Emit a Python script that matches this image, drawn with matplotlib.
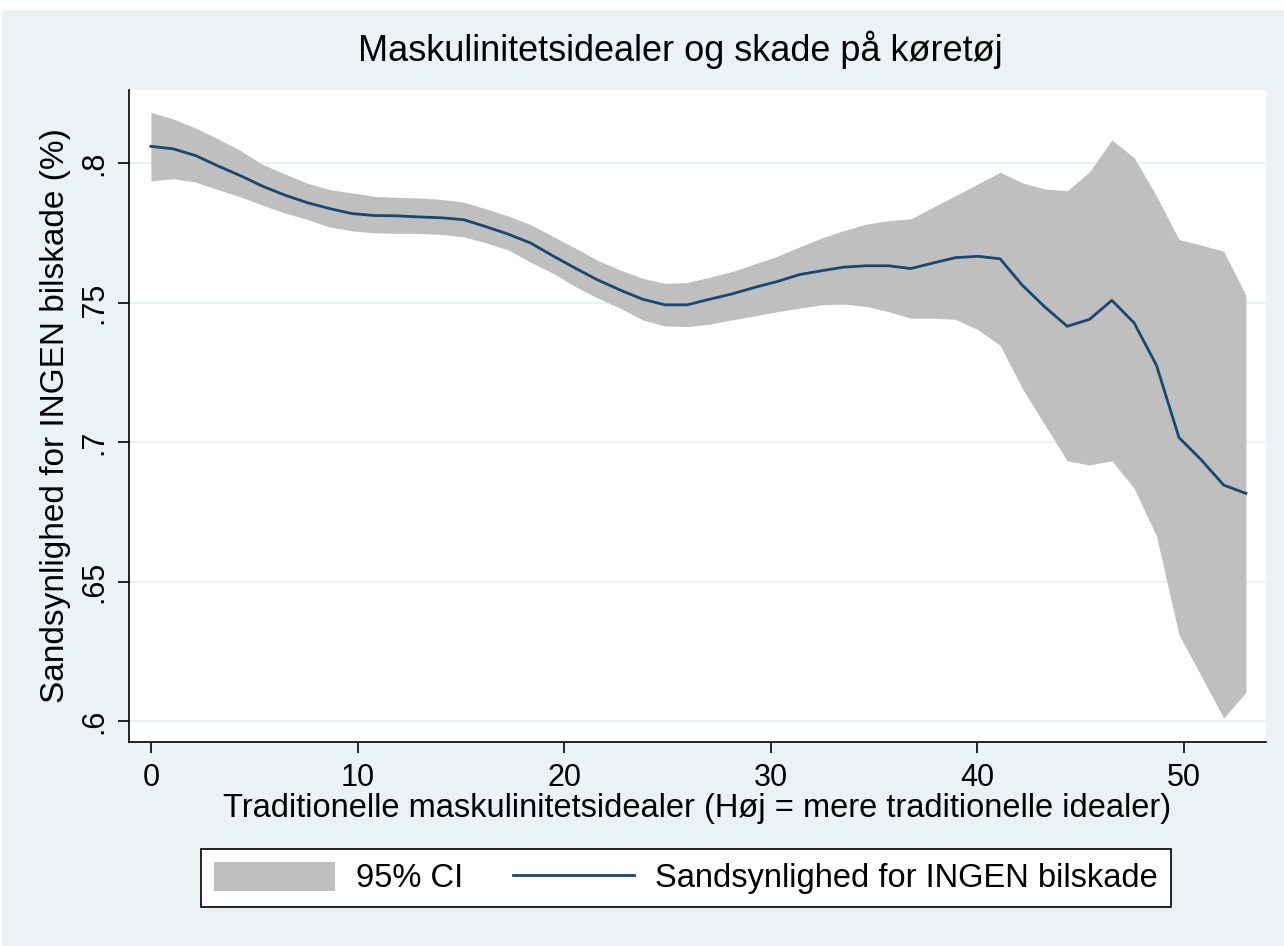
import matplotlib
matplotlib.use("Agg")
import matplotlib.pyplot as plt
from matplotlib.patches import Rectangle, Patch
from matplotlib.lines import Line2D
from matplotlib.ticker import FuncFormatter

plt.rcParams['font.family'] = ['Liberation Sans Narrow', 'Liberation Sans', 'DejaVu Sans']

# maskulinitetsscore (x) og forudsagt sandsynlighed med 95% CI
x = [0, 1.08, 2.16, 3.24, 4.33, 5.41, 6.49, 7.57, 8.65, 9.73,
     10.82, 11.90, 12.98, 14.06, 15.14, 16.22, 17.31, 18.39, 19.47, 20.55,
     21.63, 22.71, 23.80, 24.88, 25.96, 27.04, 28.12, 29.20, 30.29, 31.37,
     32.45, 33.53, 34.61, 35.69, 36.78, 37.86, 38.94, 40.02, 41.10, 42.18,
     43.27, 44.35, 45.43, 46.51, 47.59, 48.67, 49.76, 50.84, 51.92, 53.0]

pred = [0.8060, 0.8051, 0.8027, 0.7990, 0.7955, 0.7917, 0.7885, 0.7858, 0.7837, 0.7819,
        0.7812, 0.7811, 0.7807, 0.7804, 0.7797, 0.7772, 0.7745, 0.7713, 0.7667, 0.7623,
        0.7581, 0.7545, 0.7512, 0.7492, 0.7492, 0.7512, 0.7531, 0.7554, 0.7575, 0.7600,
        0.7614, 0.7627, 0.7632, 0.7632, 0.7622, 0.7642, 0.7661, 0.7666, 0.7657, 0.7562,
        0.7484, 0.7415, 0.7440, 0.7508, 0.7427, 0.7275, 0.7016, 0.6936, 0.6846, 0.6816]

upper = [0.8182, 0.8158, 0.8126, 0.8087, 0.8045, 0.7995, 0.7961, 0.7928, 0.7905, 0.7893,
         0.7881, 0.7877, 0.7875, 0.7870, 0.7860, 0.7836, 0.7810, 0.7779, 0.7737, 0.7695,
         0.7651, 0.7617, 0.7587, 0.7569, 0.7572, 0.7591, 0.7611, 0.7638, 0.7665, 0.7699,
         0.7731, 0.7758, 0.7781, 0.7794, 0.7800, 0.7842, 0.7883, 0.7925, 0.7967, 0.7929,
         0.7907, 0.7901, 0.7969, 0.8083, 0.8019, 0.7882, 0.7726, 0.7706, 0.7684, 0.7526]

lower = [0.7936, 0.7944, 0.7932, 0.7905, 0.7879, 0.7849, 0.7821, 0.7798, 0.7771, 0.7757,
         0.7750, 0.7748, 0.7748, 0.7744, 0.7736, 0.7714, 0.7688, 0.7644, 0.7605, 0.7557,
         0.7516, 0.7480, 0.7438, 0.7416, 0.7414, 0.7423, 0.7438, 0.7452, 0.7467, 0.7480,
         0.7492, 0.7495, 0.7486, 0.7468, 0.7444, 0.7444, 0.7440, 0.7403, 0.7347, 0.7192,
         0.7061, 0.6933, 0.6918, 0.6933, 0.6834, 0.6663, 0.6309, 0.6161, 0.6011, 0.6103]

xticks = [0, 10, 20, 30, 40, 50]
yticks = [0.6, 0.65, 0.7, 0.75, 0.8]

bg = '#EAF2F3'
navy = '#1A476F'
ci_grey = '#BFBFBF'

W, H = 1284, 946
fig = plt.figure(figsize=(W / 100, H / 100), dpi=100, facecolor=bg)
# hvid kant oeverst og til venstre
fig.patches.append(Rectangle((0, 1 - 10 / H), 1, 10 / H, transform=fig.transFigure,
                             facecolor='white', edgecolor='none', zorder=-1))
fig.patches.append(Rectangle((0, 0), 2 / W, 1, transform=fig.transFigure,
                             facecolor='white', edgecolor='none', zorder=-1))

ax = fig.add_axes([129 / W, 1 - 742 / H, (1266 - 129) / W, (742 - 90) / H])
ax.set_facecolor('white')

ax.fill_between(x, lower, upper, color=ci_grey, linewidth=0, zorder=2)
ax.plot(x, pred, color=navy, linewidth=2.0, zorder=3)

ax.set_xlim(-1.06, 53.97)
ax.set_ylim(0.5925, 0.8262)
ax.set_xticks(xticks)
ax.set_yticks(yticks)
ax.yaxis.set_major_formatter(FuncFormatter(lambda v, p: ('%g' % v).lstrip('0')))
ax.grid(axis='y', color=bg, linewidth=1.6, zorder=1)
ax.grid(axis='x', visible=False)
ax.set_axisbelow(True)

for s in ['top', 'right']:
    ax.spines[s].set_visible(False)
for s in ['left', 'bottom']:
    ax.spines[s].set_color('black')
    ax.spines[s].set_linewidth(1.2)

ax.tick_params(axis='both', direction='out', length=8, width=1.2, color='black', labelsize=22)
ax.tick_params(axis='x', pad=7)
ax.tick_params(axis='y', pad=6)
for lab in ax.get_yticklabels():
    lab.set_rotation(90)
    lab.set_va('center')

ax.set_xlabel('Traditionelle maskulinitetsidealer (Høj = mere traditionelle idealer)',
              fontsize=23.5, labelpad=0)
ax.set_ylabel('Sandsynlighed for INGEN bilskade (%)', fontsize=24, labelpad=6)

fig.text(680 / W, 1 - 50 / H, 'Maskulinitetsidealer og skade på køretøj',
         ha='center', va='center', fontsize=26)

handles = [Patch(facecolor=ci_grey, edgecolor='none'),
           Line2D([0], [0], color=navy, linewidth=2.0)]
leg = fig.legend(handles, ['95% CI', 'Sandsynlighed for INGEN bilskade'],
                 loc='center', bbox_to_anchor=(686 / W, 1 - 878 / H), ncol=2,
                 fontsize=23.5, frameon=True, fancybox=False, framealpha=1,
                 handlelength=3.7, handleheight=1.0, handletextpad=0.65,
                 columnspacing=1.55, borderpad=0.4, borderaxespad=0)
leg.get_frame().set_edgecolor('black')
leg.get_frame().set_linewidth(1.2)
leg.get_frame().set_facecolor('white')

fig.savefig('out.png', dpi=100, facecolor=fig.get_facecolor())
